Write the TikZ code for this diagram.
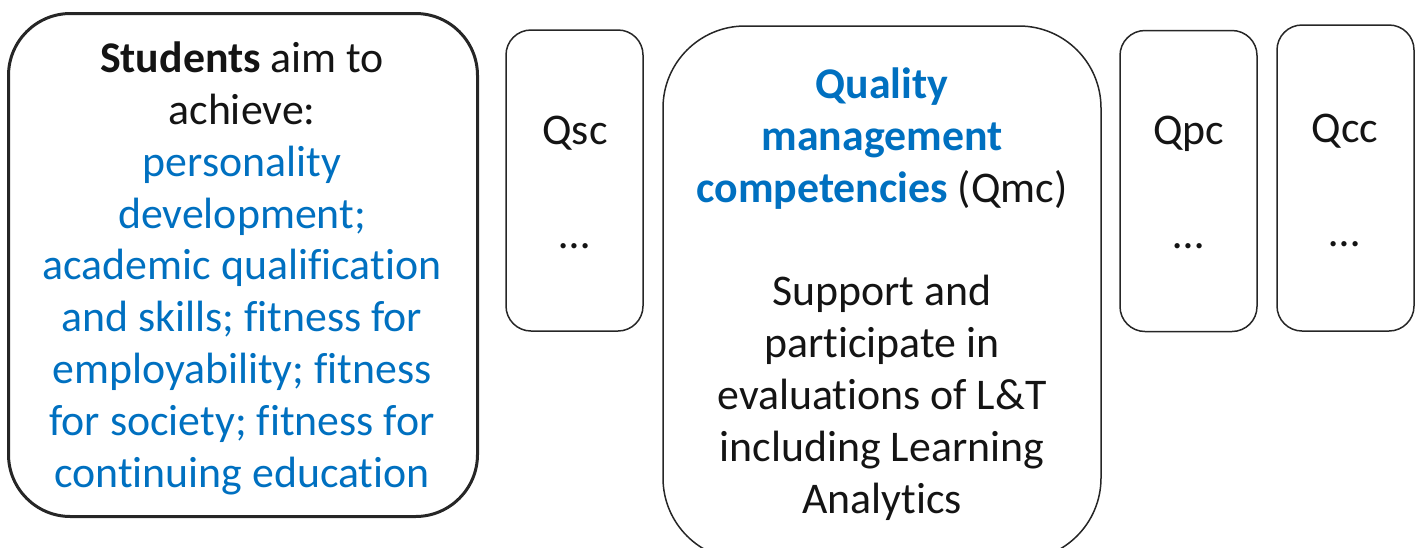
\documentclass[tikz,border=0pt]{standalone}
\usepackage{fontspec}
\setmainfont{Carlito}[Ligatures=NoCommon]
\begin{document}
\definecolor{qblue}{RGB}{0,112,192}
\definecolor{qtext}{RGB}{20,20,20}
\definecolor{qline}{RGB}{38,38,38}
\begin{tikzpicture}[x=1pt,y=-1pt,
  box/.style={draw=qline, line width=1.5pt, inner sep=0pt, outer sep=0pt},
  txt/.style={inner sep=0pt, align=center, text=qtext,
    font=\fontsize{43.8}{51.8}\selectfont, anchor=base}]
  \useasboundingbox (0,0) rectangle (1421,547);
  \clip (0,0) rectangle (1421,547);

  % outlines
  \node[box, line width=3pt, rounded corners=62pt, minimum width=469pt, minimum height=503pt] (stu) at (243,265) {};
  \node[box, rounded corners=25pt, minimum width=137pt, minimum height=301pt] (qsc) at (574.5,180.5) {};
  \node[box, rounded corners=82pt, minimum width=438pt, minimum height=534pt] (qmc) at (882,293) {};
  \node[box, rounded corners=25pt, minimum width=137pt, minimum height=301pt] (qpc) at (1188.5,181) {};
  \node[box, rounded corners=25pt, minimum width=137pt, minimum height=306pt] (qcc) at (1345.5,178) {};

  % texts (anchored at the baseline of their last line)
  \node[txt] (stutext) at (242,487) {\textbf{Students} aim to\\achieve:\\
    \color{qblue}personality\\\color{qblue}development;\\
    \color{qblue}academic qualification\\\color{qblue}and skills; fitness for\\
    \color{qblue}employability; fitness\\\color{qblue}for society; fitness for\\
    \color{qblue}continuing education};
  \node[txt] (qsctext) at (575,248) {Qsc\\[52pt]…};
  \node[txt] (qmctext) at (882,513) {\color{qblue}\textbf{Quality}\\\color{qblue}\textbf{management}\\
    {\color{qblue}\textbf{competencies}} (Qmc)\\[52pt]Support and\\participate in\\
    evaluations of L\&T\\including Learning\\Analytics};
  \node[txt] (qpctext) at (1189,248) {Qpc\\[52pt]…};
  \node[txt] (qcctext) at (1345,246) {Qcc\\[52pt]…};
\end{tikzpicture}
\end{document}
